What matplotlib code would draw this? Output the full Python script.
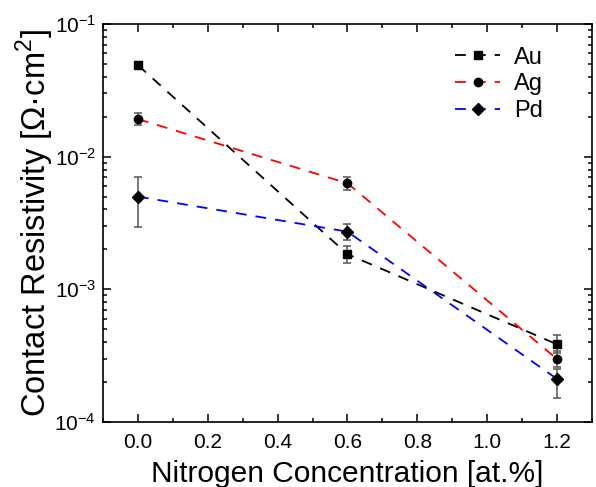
import matplotlib
matplotlib.use('Agg')
import matplotlib.pyplot as plt
from matplotlib.ticker import MultipleLocator, LogLocator, NullFormatter

plt.rcParams['font.family'] = ['Liberation Sans', 'DejaVu Sans']
plt.rcParams['mathtext.fontset'] = 'custom'
plt.rcParams['mathtext.rm'] = 'Liberation Sans'

# datos
nitrogeno = [0.0, 0.6, 1.2]
metales = ['Au', 'Ag', 'Pd']
colores = ['black', 'red', 'blue']
marcadores = ['s', 'o', 'D']
tam_marcador = [5.5, 6.0, 6.5]

au = [0.049, 0.00184, 0.000385]
ag = [0.0192, 0.0063, 0.000298]
pd_ = [0.0050, 0.00272, 0.000211]

# limites de las barras de error (inferior, superior)
au_inf = [0.049, 0.00158, 0.00033]
au_sup = [0.049, 0.00212, 0.000453]
ag_inf = [0.0173, 0.00561, 0.00026]
ag_sup = [0.0215, 0.0070, 0.00034]
pd_inf = [0.00297, 0.00235, 0.000151]
pd_sup = [0.0070, 0.0031, 0.00025]

fig = plt.figure(figsize=(5.96, 4.87), dpi=100)
ax = fig.add_axes([0.1728, 0.1335, 0.8205, 0.8172])

series = [(au, au_inf, au_sup), (ag, ag_inf, ag_sup), (pd_, pd_inf, pd_sup)]
for (y, lo, hi), nombre, c, m, ms in zip(series, metales, colores, marcadores, tam_marcador):
    err = [[v - l for v, l in zip(y, lo)], [h - v for v, h in zip(y, hi)]]
    ax.errorbar(nitrogeno, y, yerr=err, fmt='none', ecolor='#555555',
                elinewidth=1.1, capsize=2.8, capthick=1.1, zorder=2)
    ax.plot(nitrogeno, y, color=c, linestyle=(0, (6, 5)), linewidth=1.3,
            marker=m, markersize=ms, markerfacecolor='black',
            markeredgecolor='black', label=nombre, zorder=3)

ax.set_yscale('log')
ax.set_xlim(-0.1, 1.3)
ax.set_ylim(1e-4, 1e-1)
ax.xaxis.set_major_locator(MultipleLocator(0.2))
ax.xaxis.set_minor_locator(MultipleLocator(0.1))
ax.yaxis.set_major_locator(LogLocator(base=10, numticks=10))
ax.yaxis.set_minor_locator(LogLocator(base=10, subs=range(2, 10), numticks=20))
ax.yaxis.set_minor_formatter(NullFormatter())
ax.xaxis.set_major_formatter(plt.FuncFormatter(lambda v, p: f'{v:.1f}'))

ax.tick_params(which='both', direction='in', top=True, right=True, labelsize=15)
ax.tick_params(which='major', length=6, width=1.1)
ax.tick_params(which='minor', length=3, width=1.1)
ax.tick_params(axis='x', pad=8)
ax.tick_params(axis='y', pad=5)
for s in ax.spines.values():
    s.set_linewidth(1.2)

ax.set_xlabel('Nitrogen Concentration [at.%]', fontsize=21.5, labelpad=5.5)
ax.set_ylabel('Contact Resistivity [$\\Omega$·cm$^2$]', fontsize=23.5, labelpad=-1)

leg = ax.legend(loc='upper left', frameon=False, fontsize=17, handlelength=1.9,
                handletextpad=0.6, bbox_to_anchor=(0.72, 0.943),
                borderaxespad=0, borderpad=0, labelspacing=0.2)

plt.savefig('out.png', dpi=100)
